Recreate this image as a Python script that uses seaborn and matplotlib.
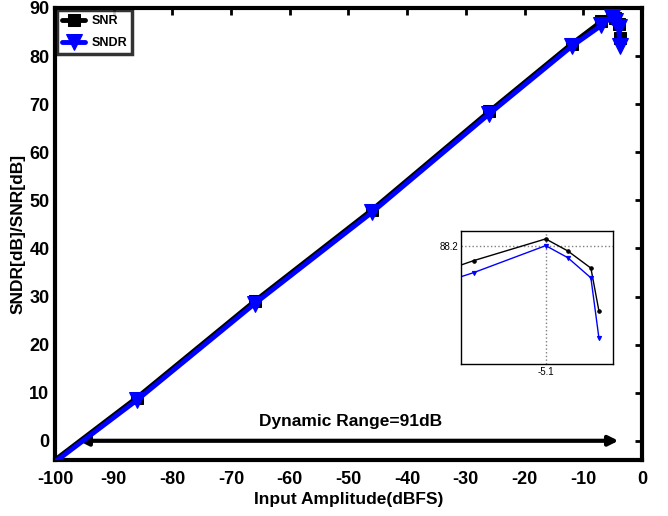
import numpy as np
import pandas as pd
import matplotlib
matplotlib.use('Agg')
import matplotlib.pyplot as plt
import seaborn as sns

# 数据
input_dbfs = [-100, -86, -66, -46, -26, -12, -6.9, -5.1, -4.55, -3.97, -3.77]
snr_db = [-4.0, 9.0, 29.0, 48.0, 68.5, 82.5, 87.2, 88.65, 87.85, 86.7, 83.85]
sndr_db = [-4.4, 8.5, 28.5, 47.5, 68.0, 82.0, 86.4, 88.2, 87.4, 86.05, 82.05]
x_ticks = list(range(-100, 1, 10))
y_ticks = list(range(0, 91, 10))
peak_x = -5.1
peak_y = 88.2
dr_start, dr_end = -96, -4
dr_label = 'Dynamic Range=91dB'

sns.set_theme(style='white')
plt.rcParams['font.family'] = ['Liberation Sans', 'DejaVu Sans']
plt.rcParams['font.weight'] = 'bold'
plt.rcParams['axes.unicode_minus'] = False
plt.rcParams['text.color'] = 'black'
plt.rcParams['axes.labelcolor'] = 'black'
plt.rcParams['xtick.color'] = 'black'
plt.rcParams['ytick.color'] = 'black'

fig = plt.figure(figsize=(6.68, 5.16), dpi=100)
ax = fig.add_axes([0.0823, 0.1085, 0.8787, 0.876])

df = pd.DataFrame({'x': input_dbfs, 'snr': snr_db, 'sndr': sndr_db})

sns.lineplot(data=df, x='x', y='snr', ax=ax, color='black', lw=3.5,
             marker='s', markersize=9, markeredgecolor='black',
             markevery=slice(1, None), label='SNR', zorder=3)
sns.lineplot(data=df, x='x', y='sndr', ax=ax, color='#0000ff', lw=3.5,
             marker='v', markersize=11, markeredgecolor='#0000ff',
             markevery=slice(1, None), label='SNDR', zorder=4)

ax.set_xlim(-100, 0)
ax.set_ylim(-4, 90)
ax.set_xticks(x_ticks)
ax.set_yticks(y_ticks)
ax.set_xlabel('Input Amplitude(dBFS)', fontsize=12.5, fontweight='bold', labelpad=3)
ax.set_ylabel('SNDR[dB]/SNR[dB]', fontsize=12.5, fontweight='bold', labelpad=3)
ax.tick_params(axis='both', direction='in', length=5, width=2, labelsize=13,
               top=True, right=True)
ax.tick_params(axis='x', pad=8)
ax.tick_params(axis='y', pad=4)
for lab in ax.get_xticklabels() + ax.get_yticklabels():
    lab.set_fontweight('bold')
for sp in ax.spines.values():
    sp.set_linewidth(3)
    sp.set_color('black')

leg = ax.legend(loc='upper left', bbox_to_anchor=(0.0, 1.0), fontsize=9,
                frameon=True, fancybox=False, borderaxespad=0.2,
                handlelength=1.8, handletextpad=0.5, borderpad=0.4,
                labelspacing=0.8)
leg.get_frame().set_edgecolor('black')
leg.get_frame().set_linewidth(2.5)
for t in leg.get_texts():
    t.set_fontweight('bold')

# 动态范围箭头
ax.annotate('', xy=(dr_end, 0), xytext=(dr_start, 0),
            arrowprops=dict(arrowstyle='<|-|>', color='black', lw=3,
                            mutation_scale=14, shrinkA=0, shrinkB=0))
ax.text(-49.6, 4, dr_label, ha='center', va='center',
        fontsize=12.5, fontweight='bold')

# 局部放大图
axin = fig.add_axes([0.690, 0.2946, 0.2275, 0.2578])
sns.lineplot(data=df, x='x', y='snr', ax=axin, color='black', lw=1,
             marker='o', markersize=2.5, markeredgecolor='black', legend=False)
sns.lineplot(data=df, x='x', y='sndr', ax=axin, color='#0000ff', lw=1,
             marker='v', markersize=3, markeredgecolor='#0000ff', legend=False)
axin.axvline(peak_x, color='gray', ls=':', lw=1, zorder=0)
axin.axhline(peak_y, color='gray', ls=':', lw=1, zorder=0)
axin.set_xlim(-7.22, -3.42)
axin.set_ylim(80.3, 89.18)
axin.set_xticks([peak_x])
axin.set_xticklabels(['-5.1'])
axin.set_yticks([peak_y])
axin.set_yticklabels(['88.2'])
axin.set_xlabel('')
axin.set_ylabel('')
axin.tick_params(axis='both', length=0, labelsize=7, pad=2)
for lab in axin.get_xticklabels() + axin.get_yticklabels():
    lab.set_fontweight('normal')
for sp in axin.spines.values():
    sp.set_linewidth(1)
    sp.set_color('black')

fig.savefig('out.png', dpi=100)
